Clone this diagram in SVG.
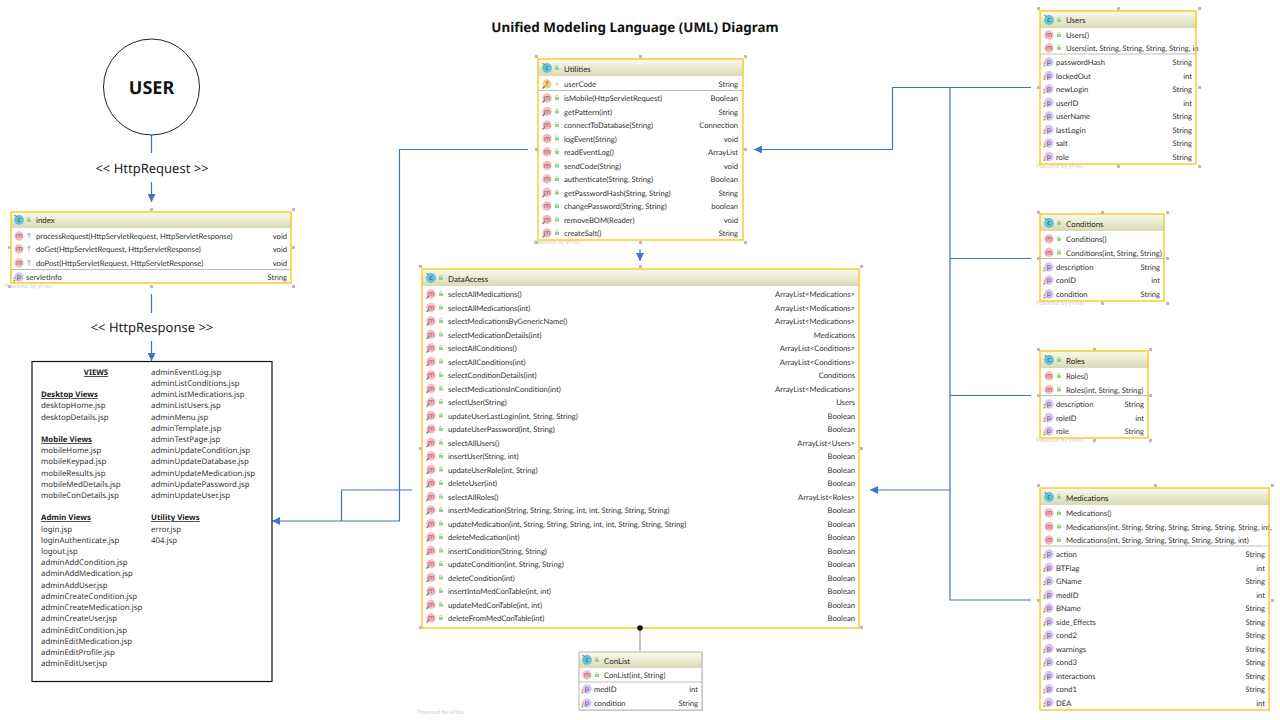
<svg xmlns="http://www.w3.org/2000/svg" width="1280" height="720" viewBox="0 0 1280 720">
<style>
text{font-family:Lato,"Liberation Sans",sans-serif;font-size:7.650px;fill:#2e2e2e;text-rendering:geometricPrecision}
.r{text-anchor:end}
.t{font-size:7.900px;fill:#262626}
.box{fill:none;stroke:#fdc725;stroke-width:1.400}
.gbox{fill:none;stroke:#b4b4b4;stroke-width:1}
.bg{fill:#fff}
.hdr{fill:url(#hg)}
.sep{stroke:#bdbdbd;stroke-width:1.200}
.hd{fill:#b9b9b9}
.pw{font-size:6px;fill:#d0d0d0}
.con{fill:none;stroke:#4472c4;stroke-width:1.200}
.v{font-family:"Noto Sans",sans-serif;font-size:7.850px;fill:#333}
.vh{font-family:"Noto Sans",sans-serif;font-size:7.800px;font-weight:700;fill:#222;text-decoration:underline}
.lab{font-family:"Noto Sans",sans-serif;font-size:13px;fill:#222;text-anchor:middle}
.ic{font-family:"Noto Sans",sans-serif;font-size:7px;text-anchor:middle;fill:#8a5a6a}
.hh{font-family:"Noto Sans",sans-serif;font-weight:700;fill:#111;text-anchor:middle}
</style>
<defs>
<linearGradient id="hg" x1="0" y1="0" x2="0" y2="1"><stop offset="0" stop-color="#fbfbee"/><stop offset="1" stop-color="#d9d9b4"/></linearGradient>
<marker id="ah" viewBox="0 0 10 10" refX="10" refY="5" markerWidth="8" markerHeight="8" markerUnits="userSpaceOnUse" orient="auto"><path d="M0 0L10 5L0 10z" fill="#4472c4"/></marker>
<g id="lk"><rect x="-2" y="-1" width="4" height="3" fill="#9ccf8a"/><path d="M-1.200 -1v-1.400h2.400" fill="none" stroke="#9ccf8a" stroke-width=".8"/></g>
<g id="gl"><path d="M-2-2.200h4M0-2.200v4.400" stroke="#b5b5b5" stroke-width="1.200" fill="none"/></g>
<g id="m"><circle r="4.700" fill="#f9b9c0"/><text class="ic" y="2.400">m</text></g>
<g id="ms"><use href="#m"/><path d="M-4.500 4.500L-2 2" stroke="#777" stroke-width="1.300"/></g>
<g id="p"><circle cx="0" r="4.700" fill="#d9c4f4"/><text class="ic" y="2.400" style="fill:#5f4a80">p</text><rect x="-5.500" y="0.400" width="1.700" height="1.400" fill="#ef8a3c"/><rect x="-5.500" y="2.800" width="1.700" height="1.600" fill="#43b33e"/></g>
<g id="c"><circle r="4.900" fill="#62c4d8"/><text class="ic" y="2.400" style="fill:#2c4a60">c</text><path d="M-4.500-4.500l2.200 1" stroke="#666" stroke-width="1"/></g>
<g id="f"><circle r="4.700" fill="#f9cf82"/><text class="ic" y="2.400" style="fill:#7a5a20">f</text><path d="M-4.500 4.500L-2 2" stroke="#777" stroke-width="1.300"/></g>
</defs>
<rect width="1280" height="720" fill="#fff"/>
<text id="title" class="hh" x="635" y="32" style="font-size:13.400px">Unified Modeling Language (UML) Diagram</text>

<g id="connectors">
<path class="con" d="M151.500 135V153"/>
<path class="con" d="M151.500 182V202" marker-end="url(#ah)"/>
<path class="con" d="M151.500 294V313"/>
<path class="con" d="M151.500 341V361" marker-end="url(#ah)"/>
<path class="con" d="M528 149.500H399.500V521H272" marker-end="url(#ah)"/>
<path class="con" d="M412 490H341.500V521"/>
<path class="con" d="M1031 87.500H892.500V149.500H754" marker-end="url(#ah)"/>
<path class="con" d="M950 87.500V600H1031"/>
<path class="con" d="M950 258.500H1031"/>
<path class="con" d="M950 395.500H1031"/>
<path class="con" d="M950 490H870" marker-end="url(#ah)"/>
<path class="con" d="M640 249V261" marker-end="url(#ah)"/>
<path d="M640 628V651" fill="none" stroke="#c98a8a" stroke-width="1.200"/>
</g>

<g id="user"><circle cx="151.500" cy="87" r="48" fill="#fff" stroke="#222" stroke-width="1"/><text class="hh" x="151.500" y="94" style="font-size:18px">USER</text></g>
<text id="l-req" class="lab" x="152" y="173">&lt;&lt; HttpRequest &gt;&gt;</text>
<text id="l-res" class="lab" x="152" y="332">&lt;&lt; HttpResponse &gt;&gt;</text>

<g id="index">
<text class="pw" x="5" y="288">Powered by yFiles</text>
<path class="hd" d="M150 208h3v3h-3zM292 208h3v3h-3zM8 246h3v3h-3zM292 246h3v3h-3zM8 285h3v3h-3zM150 285h3v3h-3zM292 285h3v3h-3z"/>
<rect class="bg" x="11" y="212" width="280" height="71"/><rect class="hdr" x="11" y="212" width="280" height="16"/>
<use href="#c" x="19" y="220"/><use href="#lk" x="29" y="220"/><text class="t" x="36" y="223">index</text>
<use href="#m" x="19" y="236"/><use href="#gl" x="29" y="236"/><text x="36" y="239">processRequest(HttpServletRequest, HttpServletResponse)</text><text class="r" x="287" y="239">void</text>
<use href="#m" x="19" y="249"/><use href="#gl" x="29" y="249"/><text x="36" y="252">doGet(HttpServletRequest, HttpServletResponse)</text><text class="r" x="287" y="252">void</text>
<use href="#m" x="19" y="263"/><use href="#gl" x="29" y="263"/><text x="36" y="266">doPost(HttpServletRequest, HttpServletResponse)</text><text class="r" x="287" y="266">void</text>
<path class="sep" d="M11 269.500H291"/>
<use href="#p" x="19" y="277"/><text x="26" y="280">servletInfo</text><text class="r" x="287" y="280">String</text>
<rect class="box" x="11" y="212" width="280" height="71"/>
</g>

<g id="views">
<rect x="32" y="361.500" width="240" height="320" fill="#fff" stroke="#111" stroke-width="1.200"/>
<text class="vh" x="96" y="375" text-anchor="middle">VIEWS</text>
<text class="vh" x="41" y="397">Desktop Views</text>
<text class="v" x="41" y="408">desktopHome.jsp</text>
<text class="v" x="41" y="420">desktopDetails.jsp</text>
<text class="vh" x="41" y="442">Mobile  Views</text>
<text class="v" x="41" y="453">mobileHome.jsp</text>
<text class="v" x="41" y="464">mobileKeypad.jsp</text>
<text class="v" x="41" y="476">mobileResults.jsp</text>
<text class="v" x="41" y="487">mobileMedDetails.jsp</text>
<text class="v" x="41" y="498">mobileConDetails.jsp</text>
<text class="vh" x="41" y="520">Admin  Views</text>
<text class="v" x="41" y="532">login.jsp</text>
<text class="v" x="41" y="543">loginAuthenticate.jsp</text>
<text class="v" x="41" y="554">logout.jsp</text>
<text class="v" x="41" y="565">adminAddCondition.jsp</text>
<text class="v" x="41" y="576">adminAddMedication.jsp</text>
<text class="v" x="41" y="588">adminAddUser.jsp</text>
<text class="v" x="41" y="599">adminCreateCondition.jsp</text>
<text class="v" x="41" y="610">adminCreateMedication.jsp</text>
<text class="v" x="41" y="621">adminCreateUser.jsp</text>
<text class="v" x="41" y="633">adminEditCondition.jsp</text>
<text class="v" x="41" y="644">adminEditMedication.jsp</text>
<text class="v" x="41" y="655">adminEditProfile.jsp</text>
<text class="v" x="41" y="666">adminEditUser.jsp</text>
<text class="v" x="151" y="375">adminEventLog.jsp</text>
<text class="v" x="151" y="386">adminListConditions.jsp</text>
<text class="v" x="151" y="397">adminListMedications.jsp</text>
<text class="v" x="151" y="408">adminListUsers.jsp</text>
<text class="v" x="151" y="420">adminMenu.jsp</text>
<text class="v" x="151" y="431">adminTemplate.jsp</text>
<text class="v" x="151" y="442">adminTestPage.jsp</text>
<text class="v" x="151" y="453">adminUpdateCondition.jsp</text>
<text class="v" x="151" y="464">adminUpdateDatabase.jsp</text>
<text class="v" x="151" y="476">adminUpdateMedication.jsp</text>
<text class="v" x="151" y="487">adminUpdatePassword.jsp</text>
<text class="v" x="151" y="498">adminUpdateUser.jsp</text>
<text class="vh" x="151" y="520">Utility  Views</text>
<text class="v" x="151" y="532">error.jsp</text>
<text class="v" x="151" y="543">404.jsp</text>
</g>

<g id="utilities">
<text class="pw" x="533" y="244">Powered by yFiles</text>
<path class="hd" d="M535 55h3v3h-3zM639 55h3v3h-3zM744 55h3v3h-3zM535 148h3v3h-3zM744 148h3v3h-3zM535 241h3v3h-3zM639 241h3v3h-3zM744 241h3v3h-3z"/>
<rect class="bg" x="538" y="59" width="205" height="181"/><rect class="hdr" x="538" y="59" width="205" height="17"/>
<use href="#c" x="547" y="68"/><use href="#lk" x="557" y="68"/><text class="t" x="564" y="72">Utilities</text>
<use href="#f" x="547" y="84"/><circle cx="557" cy="84" r="1.200" fill="#c8c8c8"/><text x="564" y="87">userCode</text><text class="r" x="738" y="87">String</text>
<path class="sep" d="M538 90.500H743"/>
<use href="#ms" x="547" y="98"/><use href="#lk" x="557" y="98"/><text x="564" y="101">isMobile(HttpServletRequest)</text><text class="r" x="738" y="101">Boolean</text>
<use href="#ms" x="547" y="111.500"/><use href="#lk" x="557" y="111.500"/><text x="564" y="114.500">getPattern(int)</text><text class="r" x="738" y="114.500">String</text>
<use href="#ms" x="547" y="125"/><use href="#lk" x="557" y="125"/><text x="564" y="128">connectToDatabase(String)</text><text class="r" x="738" y="128">Connection</text>
<use href="#m" x="547" y="138.500"/><use href="#lk" x="557" y="138.500"/><text x="564" y="141.500">logEvent(String)</text><text class="r" x="738" y="141.500">void</text>
<use href="#m" x="547" y="152"/><use href="#lk" x="557" y="152"/><text x="564" y="155">readEventLog()</text><text class="r" x="738" y="155">ArrayList</text>
<use href="#m" x="547" y="165.500"/><use href="#lk" x="557" y="165.500"/><text x="564" y="168.500">sendCode(String)</text><text class="r" x="738" y="168.500">void</text>
<use href="#m" x="547" y="179"/><use href="#lk" x="557" y="179"/><text x="564" y="182">authenticate(String, String)</text><text class="r" x="738" y="182">Boolean</text>
<use href="#ms" x="547" y="192.500"/><use href="#lk" x="557" y="192.500"/><text x="564" y="195.500">getPasswordHash(String, String)</text><text class="r" x="738" y="195.500">String</text>
<use href="#m" x="547" y="206"/><use href="#lk" x="557" y="206"/><text x="564" y="209">changePassword(String, String)</text><text class="r" x="738" y="209">boolean</text>
<use href="#ms" x="547" y="219.500"/><use href="#lk" x="557" y="219.500"/><text x="564" y="222.500">removeBOM(Reader)</text><text class="r" x="738" y="222.500">void</text>
<use href="#ms" x="547" y="233"/><use href="#lk" x="557" y="233"/><text x="564" y="236">createSalt()</text><text class="r" x="738" y="236">String</text>
<rect class="box" x="538" y="59" width="205" height="181"/>
</g>

<g id="dataaccess">
<path class="hd" d="M419 265h3v3h-3zM639 265h3v3h-3zM860 265h3v3h-3zM419 447h3v3h-3zM860 447h3v3h-3zM419 626h3v3h-3zM860 626h3v3h-3z"/>
<rect class="bg" x="422" y="269" width="437" height="359"/><rect class="hdr" x="422" y="269" width="437" height="17"/>
<use href="#c" x="431" y="278"/><use href="#lk" x="441" y="278"/><text class="t" x="448" y="282">DataAccess</text>
<use href="#ms" x="431" y="294"/><use href="#lk" x="441" y="294"/><text x="448" y="297">selectAllMedications()</text><text class="r" x="855" y="297">ArrayList&lt;Medications&gt;</text>
<use href="#ms" x="431" y="307.500"/><use href="#lk" x="441" y="307.500"/><text x="448" y="310.500">selectAllMedications(int)</text><text class="r" x="855" y="310.500">ArrayList&lt;Medications&gt;</text>
<use href="#ms" x="431" y="321"/><use href="#lk" x="441" y="321"/><text x="448" y="324">selectMedicationsByGenericName()</text><text class="r" x="855" y="324">ArrayList&lt;Medications&gt;</text>
<use href="#ms" x="431" y="334.500"/><use href="#lk" x="441" y="334.500"/><text x="448" y="337.500">selectMedicationDetails(int)</text><text class="r" x="855" y="337.500">Medications</text>
<use href="#ms" x="431" y="348"/><use href="#lk" x="441" y="348"/><text x="448" y="351">selectAllConditions()</text><text class="r" x="855" y="351">ArrayList&lt;Conditions&gt;</text>
<use href="#ms" x="431" y="361.500"/><use href="#lk" x="441" y="361.500"/><text x="448" y="364.500">selectAllConditions(int)</text><text class="r" x="855" y="364.500">ArrayList&lt;Conditions&gt;</text>
<use href="#ms" x="431" y="375"/><use href="#lk" x="441" y="375"/><text x="448" y="378">selectConditionDetails(int)</text><text class="r" x="855" y="378">Conditions</text>
<use href="#ms" x="431" y="388.500"/><use href="#lk" x="441" y="388.500"/><text x="448" y="391.500">selectMedicationsInCondition(int)</text><text class="r" x="855" y="391.500">ArrayList&lt;Medications&gt;</text>
<use href="#ms" x="431" y="402"/><use href="#lk" x="441" y="402"/><text x="448" y="405">selectUser(String)</text><text class="r" x="855" y="405">Users</text>
<use href="#ms" x="431" y="415.500"/><use href="#lk" x="441" y="415.500"/><text x="448" y="418.500">updateUserLastLogin(int, String, String)</text><text class="r" x="855" y="418.500">Boolean</text>
<use href="#ms" x="431" y="429"/><use href="#lk" x="441" y="429"/><text x="448" y="432">updateUserPassword(int, String)</text><text class="r" x="855" y="432">Boolean</text>
<use href="#ms" x="431" y="442.500"/><use href="#lk" x="441" y="442.500"/><text x="448" y="445.500">selectAllUsers()</text><text class="r" x="855" y="445.500">ArrayList&lt;Users&gt;</text>
<use href="#ms" x="431" y="456"/><use href="#lk" x="441" y="456"/><text x="448" y="459">insertUser(String, int)</text><text class="r" x="855" y="459">Boolean</text>
<use href="#ms" x="431" y="469.500"/><use href="#lk" x="441" y="469.500"/><text x="448" y="472.500">updateUserRole(int, String)</text><text class="r" x="855" y="472.500">Boolean</text>
<use href="#ms" x="431" y="483"/><use href="#lk" x="441" y="483"/><text x="448" y="486">deleteUser(int)</text><text class="r" x="855" y="486">Boolean</text>
<use href="#ms" x="431" y="496.500"/><use href="#lk" x="441" y="496.500"/><text x="448" y="499.500">selectAllRoles()</text><text class="r" x="855" y="499.500">ArrayList&lt;Roles&gt;</text>
<use href="#ms" x="431" y="510"/><use href="#lk" x="441" y="510"/><text x="448" y="513">insertMedication(String, String, String, int, int, String, String, String)</text><text class="r" x="855" y="513">Boolean</text>
<use href="#ms" x="431" y="523.500"/><use href="#lk" x="441" y="523.500"/><text x="448" y="526.500">updateMedication(int, String, String, String, int, int, String, String, String)</text><text class="r" x="855" y="526.500">Boolean</text>
<use href="#ms" x="431" y="537"/><use href="#lk" x="441" y="537"/><text x="448" y="540">deleteMedication(int)</text><text class="r" x="855" y="540">Boolean</text>
<use href="#ms" x="431" y="550.500"/><use href="#lk" x="441" y="550.500"/><text x="448" y="553.500">insertCondition(String, String)</text><text class="r" x="855" y="553.500">Boolean</text>
<use href="#ms" x="431" y="564"/><use href="#lk" x="441" y="564"/><text x="448" y="567">updateCondition(int, String, String)</text><text class="r" x="855" y="567">Boolean</text>
<use href="#ms" x="431" y="577.500"/><use href="#lk" x="441" y="577.500"/><text x="448" y="580.500">deleteCondition(int)</text><text class="r" x="855" y="580.500">Boolean</text>
<use href="#ms" x="431" y="591"/><use href="#lk" x="441" y="591"/><text x="448" y="594">insertIntoMedConTable(int, int)</text><text class="r" x="855" y="594">Boolean</text>
<use href="#ms" x="431" y="604.500"/><use href="#lk" x="441" y="604.500"/><text x="448" y="607.500">updateMedConTable(int, int)</text><text class="r" x="855" y="607.500">Boolean</text>
<use href="#ms" x="431" y="618"/><use href="#lk" x="441" y="618"/><text x="448" y="621">deleteFromMedConTable(int)</text><text class="r" x="855" y="621">Boolean</text>
<rect class="box" x="422" y="269" width="437" height="359"/>
<circle cx="640" cy="628" r="2.800" fill="#111"/>
</g>

<g id="conlist">
<text class="pw" x="417" y="714">Powered by yFiles</text>
<rect x="580" y="653" width="123" height="58" fill="#ddd"/>
<rect class="bg" x="579" y="652" width="123" height="58"/><rect class="hdr" x="579" y="652" width="123" height="16"/>
<use href="#c" x="587" y="660"/><use href="#lk" x="597" y="660"/><text class="t" x="604" y="664">ConList</text>
<use href="#m" x="587" y="675"/><use href="#lk" x="597" y="675"/><text x="604" y="678">ConList(int, String)</text>
<path class="sep" d="M579 682H702"/>
<use href="#p" x="587" y="689"/><text x="594" y="692">medID</text><text class="r" x="698" y="692">int</text>
<use href="#p" x="587" y="703"/><text x="594" y="706">condition</text><text class="r" x="698" y="706">String</text>
<rect class="gbox" x="579" y="652" width="123" height="58"/>
</g>

<g id="users">
<text class="pw" x="1036" y="168">Powered by yFiles</text>
<path class="hd" d="M1037 7h3v3h-3zM1117 7h3v3h-3zM1198 7h3v3h-3zM1037 86h3v3h-3zM1198 86h3v3h-3zM1117 165h3v3h-3zM1198 165h3v3h-3z"/>
<rect class="bg" x="1040" y="11" width="156" height="153"/><rect class="hdr" x="1040" y="11" width="156" height="17"/>
<use href="#c" x="1049" y="20"/><use href="#lk" x="1059" y="20"/><text class="t" x="1066" y="23">Users</text>
<use href="#m" x="1049" y="35"/><use href="#lk" x="1059" y="35"/><text x="1066" y="38">Users()</text>
<use href="#m" x="1049" y="48"/><use href="#lk" x="1059" y="48"/><text x="1066" y="51">Users(int, String, String, String, String, in</text>
<path class="sep" d="M1040 54H1196"/>
<use href="#p" x="1049" y="62"/><text x="1056" y="65">passwordHash</text><text class="r" x="1192" y="65">String</text>
<use href="#p" x="1049" y="75.500"/><text x="1056" y="78.500">lockedOut</text><text class="r" x="1192" y="78.500">int</text>
<use href="#p" x="1049" y="89"/><text x="1056" y="92">newLogin</text><text class="r" x="1192" y="92">String</text>
<use href="#p" x="1049" y="102.500"/><text x="1056" y="105.500">userID</text><text class="r" x="1192" y="105.500">int</text>
<use href="#p" x="1049" y="116"/><text x="1056" y="119">userName</text><text class="r" x="1192" y="119">String</text>
<use href="#p" x="1049" y="129.500"/><text x="1056" y="132.500">lastLogin</text><text class="r" x="1192" y="132.500">String</text>
<use href="#p" x="1049" y="143"/><text x="1056" y="146">salt</text><text class="r" x="1192" y="146">String</text>
<use href="#p" x="1049" y="156.500"/><text x="1056" y="159.500">role</text><text class="r" x="1192" y="159.500">String</text>
<rect class="box" x="1040" y="11" width="156" height="153"/>
</g>

<g id="conditions">
<text class="pw" x="1036" y="305">Powered by yFiles</text>
<path class="hd" d="M1037 211h3v3h-3zM1101 211h3v3h-3zM1166 211h3v3h-3zM1037 257h3v3h-3zM1166 257h3v3h-3zM1101 302h3v3h-3zM1166 302h3v3h-3z"/>
<rect class="bg" x="1040" y="214" width="124" height="87"/><rect class="hdr" x="1040" y="214" width="124" height="17"/>
<use href="#c" x="1049" y="223"/><use href="#lk" x="1059" y="223"/><text class="t" x="1066" y="227">Conditions</text>
<use href="#m" x="1049" y="239"/><use href="#lk" x="1059" y="239"/><text x="1066" y="242">Conditions()</text>
<use href="#m" x="1049" y="252.500"/><use href="#lk" x="1059" y="252.500"/><text x="1066" y="255.500">Conditions(int, String, String)</text>
<path class="sep" d="M1040 258.500H1164"/>
<use href="#p" x="1049" y="267"/><text x="1056" y="270">description</text><text class="r" x="1160" y="270">String</text>
<use href="#p" x="1049" y="280"/><text x="1056" y="283">conID</text><text class="r" x="1160" y="283">int</text>
<use href="#p" x="1049" y="294"/><text x="1056" y="297">condition</text><text class="r" x="1160" y="297">String</text>
<rect class="box" x="1040" y="214" width="124" height="87"/>
</g>

<g id="roles">
<text class="pw" x="1036" y="442">Powered by yFiles</text>
<path class="hd" d="M1037 348h3v3h-3zM1093 348h3v3h-3zM1149 348h3v3h-3zM1037 394h3v3h-3zM1149 394h3v3h-3zM1093 439h3v3h-3zM1149 439h3v3h-3z"/>
<rect class="bg" x="1040" y="351" width="108" height="87"/><rect class="hdr" x="1040" y="351" width="108" height="17"/>
<use href="#c" x="1049" y="360"/><use href="#lk" x="1059" y="360"/><text class="t" x="1066" y="364">Roles</text>
<use href="#m" x="1049" y="376"/><use href="#lk" x="1059" y="376"/><text x="1066" y="379">Roles()</text>
<use href="#m" x="1049" y="389.500"/><use href="#lk" x="1059" y="389.500"/><text x="1066" y="392.500">Roles(int, String, String)</text>
<path class="sep" d="M1040 395.500H1148"/>
<use href="#p" x="1049" y="404"/><text x="1056" y="407">description</text><text class="r" x="1144" y="407">String</text>
<use href="#p" x="1049" y="417.500"/><text x="1056" y="420.500">roleID</text><text class="r" x="1144" y="420.500">int</text>
<use href="#p" x="1049" y="431"/><text x="1056" y="434">role</text><text class="r" x="1144" y="434">String</text>
<rect class="box" x="1040" y="351" width="108" height="87"/>
</g>

<g id="medications">
<path class="hd" d="M1037 484h3v3h-3zM1154 484h3v3h-3zM1271 484h3v3h-3zM1037 599h3v3h-3zM1271 599h3v3h-3z"/>
<rect class="bg" x="1040" y="488" width="229" height="222"/><rect class="hdr" x="1040" y="488" width="229" height="17"/>
<use href="#c" x="1049" y="497"/><use href="#lk" x="1059" y="497"/><text class="t" x="1066" y="501">Medications</text>
<use href="#m" x="1049" y="513"/><use href="#lk" x="1059" y="513"/><text x="1066" y="516">Medications()</text>
<use href="#m" x="1049" y="526.500"/><use href="#lk" x="1059" y="526.500"/><text x="1066" y="529.500">Medications(int, String, String, String, String, String, String, int,</text>
<use href="#m" x="1049" y="540"/><use href="#lk" x="1059" y="540"/><text x="1066" y="543">Medications(int, String, String, String, String, String, int)</text>
<path class="sep" d="M1040 546H1269"/>
<use href="#p" x="1049" y="554"/><text x="1056" y="557">action</text><text class="r" x="1265" y="557">String</text>
<use href="#p" x="1049" y="567.500"/><text x="1056" y="570.500">BTFlag</text><text class="r" x="1265" y="570.500">int</text>
<use href="#p" x="1049" y="581"/><text x="1056" y="584">GName</text><text class="r" x="1265" y="584">String</text>
<use href="#p" x="1049" y="594.500"/><text x="1056" y="597.500">medID</text><text class="r" x="1265" y="597.500">int</text>
<use href="#p" x="1049" y="608"/><text x="1056" y="611">BName</text><text class="r" x="1265" y="611">String</text>
<use href="#p" x="1049" y="621.500"/><text x="1056" y="624.500">side_Effects</text><text class="r" x="1265" y="624.500">String</text>
<use href="#p" x="1049" y="635"/><text x="1056" y="638">cond2</text><text class="r" x="1265" y="638">String</text>
<use href="#p" x="1049" y="648.500"/><text x="1056" y="651.500">warnings</text><text class="r" x="1265" y="651.500">String</text>
<use href="#p" x="1049" y="662"/><text x="1056" y="665">cond3</text><text class="r" x="1265" y="665">String</text>
<use href="#p" x="1049" y="675.500"/><text x="1056" y="678.500">interactions</text><text class="r" x="1265" y="678.500">String</text>
<use href="#p" x="1049" y="689"/><text x="1056" y="692">cond1</text><text class="r" x="1265" y="692">String</text>
<use href="#p" x="1049" y="702.500"/><text x="1056" y="705.500">DEA</text><text class="r" x="1265" y="705.500">int</text>
<rect class="box" x="1040" y="488" width="229" height="222"/>
</g>
</svg>
